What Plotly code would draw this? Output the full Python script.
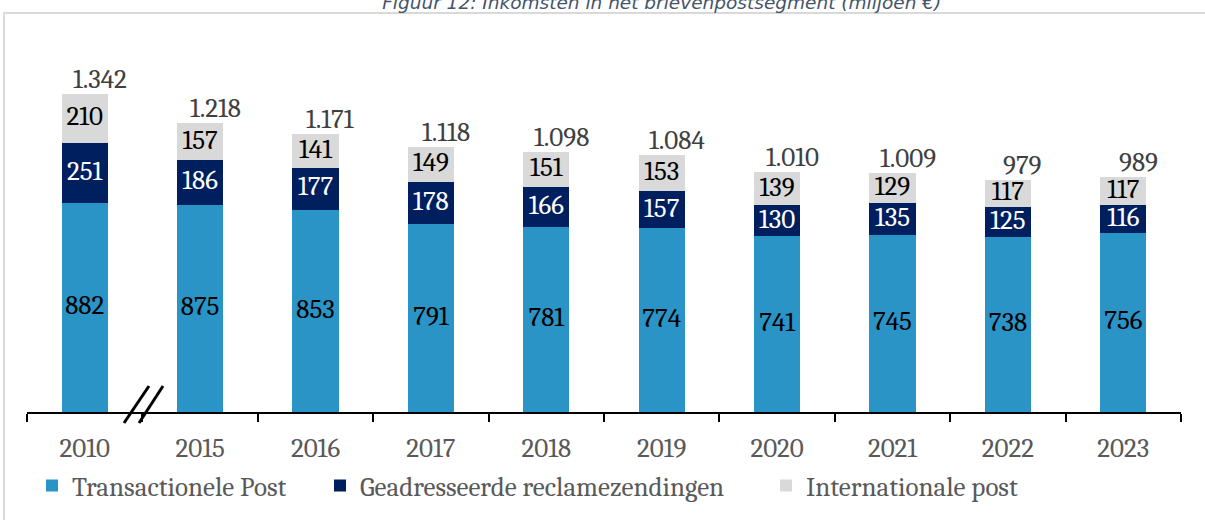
import plotly.graph_objects as go

years = ["2010", "2015", "2016", "2017", "2018", "2019", "2020", "2021", "2022", "2023"]
transactionele = [882, 875, 853, 791, 781, 774, 741, 745, 738, 756]
geadresseerde = [251, 186, 177, 178, 166, 157, 130, 135, 125, 116]
internationale = [210, 157, 141, 149, 151, 153, 139, 129, 117, 117]
totals = [1342, 1218, 1171, 1118, 1098, 1084, 1010, 1009, 979, 989]

series = [
    ("Transactionele Post", transactionele, "#2A94C7", "#000000", "legend"),
    ("Geadresseerde reclamezendingen", geadresseerde, "#001F5F", "#FFFFFF", "legend2"),
    ("Internationale post", internationale, "#D9D9D9", "#000000", "legend3"),
]

SERIF = "Cambria, 'Liberation Serif', serif"
FS = 27
fig = go.Figure()

base = [0] * len(years)
for name, vals, color, tcol, lg in series:
    fig.add_trace(go.Bar(
        x=years, y=vals, name=name, marker=dict(color=color, line=dict(width=0)),
        width=0.4, textposition="none", hoverinfo="skip", legend=lg,
    ))
    mids = [b + v / 2 for b, v in zip(base, vals)]
    fig.add_trace(go.Scatter(
        x=years, y=mids, mode="text", text=[str(v) for v in vals],
        textfont=dict(family=SERIF, size=FS, color=tcol),
        showlegend=False, hoverinfo="skip", cliponaxis=False,
    ))
    base = [b + v for b, v in zip(base, vals)]

for i, t in enumerate(totals):
    fig.add_annotation(
        x=i, y=t, xref="x", yref="y", text=f"{t:,}".replace(",", "."),
        showarrow=False, yanchor="bottom", xshift=15, yshift=-3,
        font=dict(family=SERIF, size=FS, color="#404040"),
    )

# axis break marks and border (decorations, in pixel-derived paper coords)
W = 1154.0
H = 332.0
def px_x(p):
    return (p - 27) / W
def px_y(p):
    return (412 - p) / H
for x0, x1 in [(124, 149), (139, 163)]:
    fig.add_shape(type="line", xref="paper", yref="paper",
                  x0=px_x(x0), y0=px_y(423), x1=px_x(x1), y1=px_y(386),
                  line=dict(color="#000000", width=3))

fig.add_shape(type="rect", xref="paper", yref="paper",
              x0=px_x(4), y0=px_y(13), x1=px_x(1215), y1=px_y(540),
              line=dict(color="#D9D9D9", width=2), fillcolor="rgba(0,0,0,0)", layer="below")

legend_font = dict(family=SERIF, size=FS, color="#595959")
def leg(xpx):
    return dict(orientation="h", x=px_x(xpx), xanchor="left", y=px_y(486), yanchor="middle",
                font=legend_font, bgcolor="rgba(0,0,0,0)", borderwidth=0)

fig.update_layout(
    barmode="stack",
    width=1205, height=520,
    margin=dict(l=27, r=24, t=80, b=108, autoexpand=False),
    paper_bgcolor="white", plot_bgcolor="white",
    title=dict(text="Figuur 12: Inkomsten in het brievenpostsegment (miljoen €)",
               x=0.55, xref="paper", xanchor="center", y=1.0 - 2.5 / 520, yref="container", yanchor="middle",
               font=dict(family="DejaVu Sans", size=18.5, color="#44546A", style="italic")),
    xaxis=dict(
        type="category", range=[-0.5, 9.5], showline=True, linecolor="#000000", linewidth=2,
        ticks="outside", tickson="boundaries", ticklen=8, tickwidth=2, tickcolor="#000000",
        tickfont=dict(family=SERIF, size=FS, color="#595959"), showgrid=False,
        ticklabelstandoff=11, automargin=False,
    ),
    yaxis=dict(range=[0, 1400], visible=False, showgrid=False),
    legend=leg(32),
    legend2=leg(320),
    legend3=leg(766),
    showlegend=True,
)

fig.write_html("out.html", post_script="document.body.style.margin='0';",
               config={"displayModeBar": False})
